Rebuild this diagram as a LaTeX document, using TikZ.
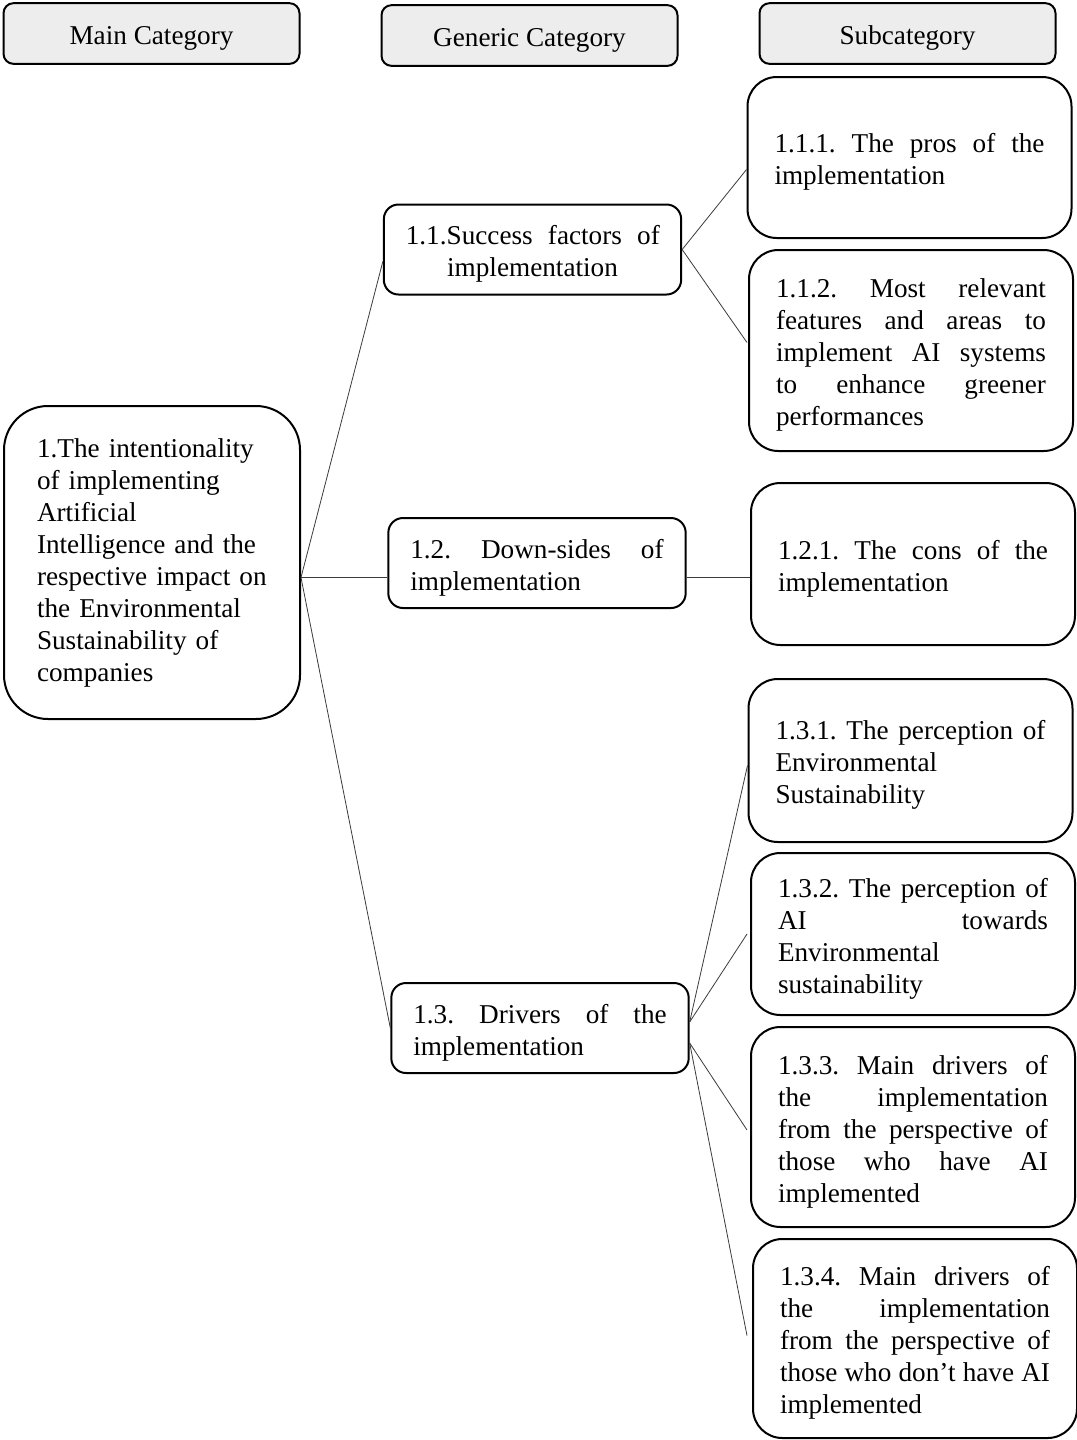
\documentclass[tikz,border=0pt]{standalone}
\usepackage{fontspec}
\setmainfont{Liberation Serif}
\usetikzlibrary{calc}
\definecolor{hdrgray}{HTML}{EDEDED}
\definecolor{linegray}{HTML}{3A3A3A}
\newcommand\boxfont{\fontsize{20.4}{24}\selectfont}
\newcommand\tfix{\rule{0pt}{21.4pt}}
\tolerance=10000
\hbadness=10000
\hyphenpenalty=10000
\exhyphenpenalty=10000
\frenchspacing
\begin{document}
\begin{tikzpicture}[x=0.75pt,y=-0.75pt,
  every node/.style={font=\boxfont},
  hdr/.style={draw, line width=1.5pt, rounded corners=7.5pt, fill=hdrgray,
    minimum width=222pt, minimum height=45.5pt, inner sep=0pt},
  gen/.style={draw, line width=1.5pt, rounded corners=11pt,
    minimum width=223pt, minimum height=67.5pt, inner sep=0pt,
    text width=190pt, align=justify},
  sub/.style={draw, line width=1.5pt, rounded corners=22pt,
    minimum width=243pt, inner sep=0pt, text width=202.5pt, align=justify},
  mainbox/.style={draw, line width=1.5pt, rounded corners=33pt,
    minimum width=222pt, minimum height=234.75pt, inner sep=0pt,
    text width=172.5pt, align=left},
  conn/.style={draw=linegray, line width=0.6pt}
]
\useasboundingbox (0,0) rectangle (1077,1440);

% headers
\node[hdr] (h1) at (151.5,33.5) {\tfix Main Category};
\node[hdr] (h2) at (529.5,35.5) {\tfix Generic Category};
\node[hdr] (h3) at (907.5,33.5) {\tfix Subcategory};

% main category
\node[mainbox] (main) at (152,562.5) {1.The intentionality\\ of implementing\\ Artificial\\ Intelligence and the\\ respective impact on\\ the Environmental\\ Sustainability of\\ companies};

% generic categories
\node[gen, align=center] (n11) at (532.5,249.5) {\hbox to 190.5pt{\tfix 1.1.Success\hfill factors\hfill of}\\ implementation};
\node[gen] (n12) at (537,563) {\tfix 1.2. Down-sides of\linebreak implementation};
\node[gen] (n13) at (540,1028) {\tfix 1.3. Drivers of the\linebreak implementation};

% subcategories
\node[sub, minimum height=120.75pt] (n111) at (909.5,157.5) {\tfix 1.1.1. The pros of the\linebreak implementation};
\node[sub, minimum height=150.75pt] (n112) at (911,350.5) {\tfix 1.1.2. Most relevant\linebreak features and areas to\linebreak implement AI systems\linebreak to enhance greener\linebreak performances};
\node[sub, minimum height=121.5pt] (n121) at (913,564) {\tfix 1.2.1. The cons of the\linebreak implementation};
\node[sub, minimum height=122.25pt] (n131) at (910.5,760.5) {\tfix 1.3.1. The perception of\linebreak Environmental\\ Sustainability};
\node[sub, minimum height=121.5pt] (n132) at (913,934) {\tfix 1.3.2. The perception of\linebreak AI towards\linebreak Environmental\\ sustainability};
\node[sub, minimum height=150pt] (n133) at (913,1127) {\tfix 1.3.3. Main drivers of\linebreak the implementation\linebreak from the perspective of\linebreak those who have AI\linebreak implemented};
\node[sub, minimum height=149.25pt] (n134) at (915,1338.5) {\tfix 1.3.4. Main drivers of\linebreak the implementation\linebreak from the perspective of\linebreak those who don’t have AI\linebreak implemented};

% connector points
\coordinate (mainout) at ($(main.east)+(0,15)$);
\coordinate (n11out) at (n11.east);
\coordinate (n13up) at ($(n13.east)+(0,-6)$);
\coordinate (n13dn) at ($(n13.east)+(0,15)$);

% connectors
\draw[conn] (mainout) -- ($(n11.west)+(0,12)$);
\draw[conn] (mainout) -- (mainout -| n12.west);
\draw[conn] (mainout) -- (n13.west);
\draw[conn] (n11out) -- ($(n111.west)+(0,12)$);
\draw[conn] (n11out) -- ($(n112.west)+(-1,-8)$);
\draw[conn] (mainout -| n12.east) -- (mainout -| n121.west);
\draw[conn] (n13up) -- ($(n131.west)+(0,5)$);
\draw[conn] (n13up) -- ($(n132.west)+(-3,0)$);
\draw[conn] (n13dn) -- ($(n133.west)+(-3,3)$);
\draw[conn] (n13dn) -- ($(n134.west)+(-5,-3)$);
\end{tikzpicture}
\end{document}
